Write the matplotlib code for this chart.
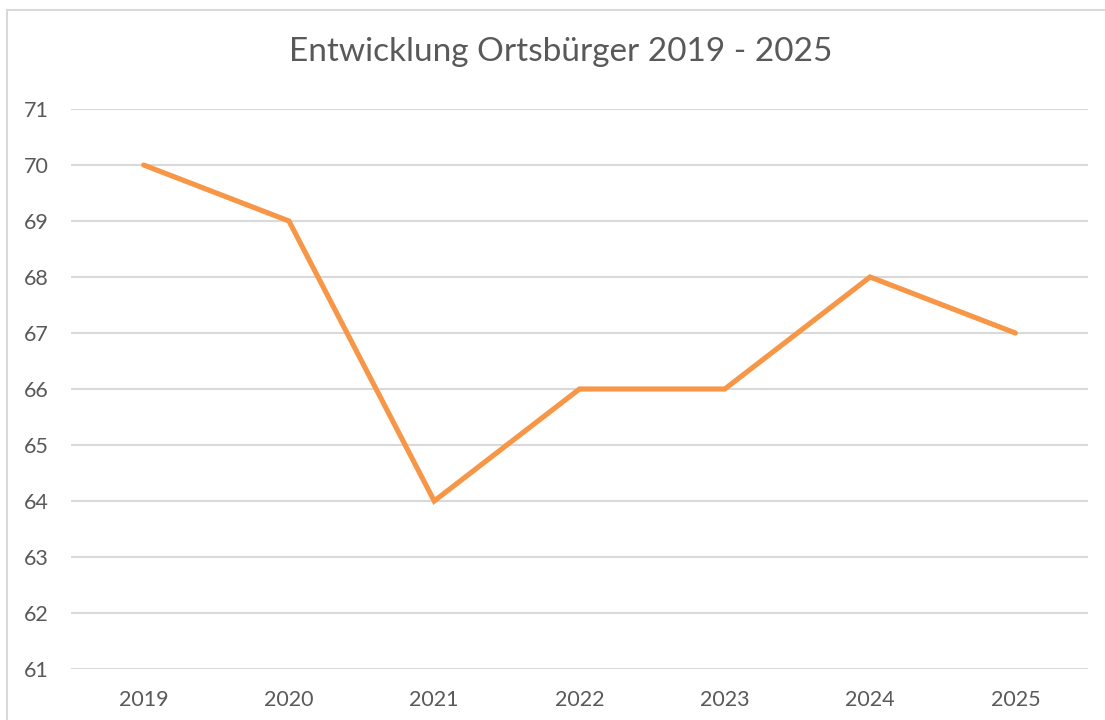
import matplotlib
matplotlib.use("Agg")
import matplotlib.pyplot as plt
from matplotlib.patches import Rectangle

years = ["2019", "2020", "2021", "2022", "2023", "2024", "2025"]
ortsbuerger = [70, 69, 64, 66, 66, 68, 67]
y_ticks = list(range(61, 72))

plt.rcParams["font.family"] = ["Lato", "DejaVu Sans"]
text_color = "#595959"
grid_color = "#D9D9D9"

fig = plt.figure(figsize=(11.05, 7.2), dpi=100)
ax = fig.add_axes([71 / 1105, 1 - 669 / 720, (1088 - 71) / 1105, (669 - 109) / 720])

# outer chart frame (runs past right/bottom edge like the screenshot)
fig.patches.append(Rectangle((7 / 1105, -0.1), 1.2, 1 - 10 / 720 + 0.1,
                             transform=fig.transFigure, fill=False,
                             edgecolor=grid_color, linewidth=1.5))

x = range(len(years))
ax.plot(x, ortsbuerger, color="#F79646", linewidth=3.7,
        solid_capstyle="round", solid_joinstyle="miter", zorder=3)

ax.set_xlim(-0.5, len(years) - 0.5)
ax.set_ylim(61, 71)
ax.set_yticks(y_ticks)
ax.set_xticks(list(x))
ax.set_xticklabels(years)
ax.yaxis.grid(True, color=grid_color, linewidth=1.5)
ax.set_axisbelow(True)
for s in ax.spines.values():
    s.set_visible(False)
ax.tick_params(axis="both", length=0, labelsize=15.5, colors=text_color)
ax.tick_params(axis="y", pad=16)
ax.tick_params(axis="x", pad=15)

fig.text(561 / 1105, 1 - 52 / 720, "Entwicklung Ortsbürger 2019 - 2025",
         ha="center", va="center", fontsize=24, color=text_color)

fig.savefig("out.png", dpi=100)
